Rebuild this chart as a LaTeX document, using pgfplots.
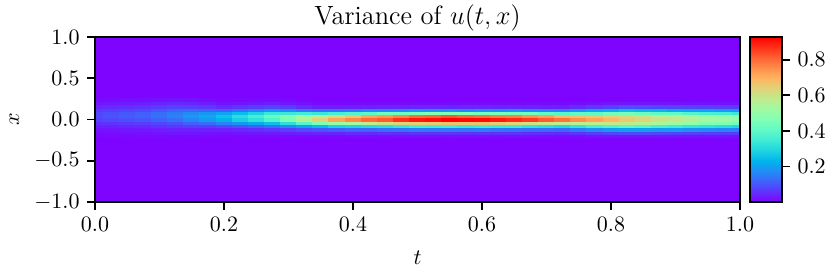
\documentclass[border=0pt]{standalone}
\usepackage{pgfplots}
\pgfplotsset{compat=1.18}
\definecolor{bgc}{rgb}{0.494,0.01,1}
\pgfplotsset{colormap={mplrainbow}{rgb=(0.5,0,1) rgb=(0.375,0.195,0.995) rgb=(0.25,0.383,0.981) rgb=(0.125,0.556,0.957) rgb=(0,0.707,0.924) rgb=(0.125,0.831,0.882) rgb=(0.25,0.924,0.831) rgb=(0.375,0.981,0.773) rgb=(0.5,1,0.707) rgb=(0.625,0.981,0.634) rgb=(0.75,0.924,0.556) rgb=(0.875,0.831,0.471) rgb=(1,0.707,0.383) rgb=(1,0.556,0.290) rgb=(1,0.383,0.195) rgb=(1,0.195,0.098) rgb=(1,0,0)}}
\begin{document}
\begin{tikzpicture}
\useasboundingbox (-43.18pt,-31.36pt) rectangle (334.05pt,91.81pt);
\begin{axis}[
  at={(0,0)}, anchor=south west,
  scale only axis, width=293.15pt, height=75pt,
  xmin=0, xmax=1, ymin=-1, ymax=1,
  axis on top,
  axis background/.style={fill=bgc},
  xtick={0,0.2,0.4,0.6,0.8,1}, ytick={-1,-0.5,0,0.5,1},
  tick align=outside, xtick pos=bottom, ytick pos=left,
  major tick length=3.5pt,
  every tick/.style={black, line width=0.8pt},
  axis line style={line width=0.8pt},
  xticklabel style={/pgf/number format/.cd, fixed, fixed zerofill, precision=1},
  yticklabel style={/pgf/number format/.cd, fixed, fixed zerofill, precision=1},
  title={Variance of $u(t,x)$},
  title style={font=\large, at={(0.5,1)}, anchor=base, yshift=-0.5pt},
  xlabel={$t$}, ylabel={$x$},
  xlabel style={yshift=-2pt},
  colormap name=mplrainbow,
  point meta min=0.001, point meta max=0.928,
  colorbar,
  colorbar style={at={(parent axis.north east)}, anchor=north west, xshift=-3.95pt,
    scale only axis, width=14.55pt, height=75pt,
    ytick={0.2,0.4,0.6,0.8}, ytick pos=right, yticklabel pos=right,
    tick align=outside, major tick length=3.5pt,
    every tick/.style={black, line width=0.8pt},
    axis line style={line width=0.8pt},
    yticklabel style={/pgf/number format/.cd, fixed, fixed zerofill, precision=1}},
]
\addplot[matrix plot*, mesh/cols=41, point meta=explicit] coordinates {
(0,-0.24)[0.005] (0.025,-0.24)[0.005] (0.05,-0.24)[0.006] (0.075,-0.24)[0.006] (0.1,-0.24)[0.007] (0.125,-0.24)[0.008] (0.15,-0.24)[0.007] (0.175,-0.24)[0.005] (0.2,-0.24)[0.005] (0.225,-0.24)[0.004] (0.25,-0.24)[0.005] (0.275,-0.24)[0.005] (0.3,-0.24)[0.006] (0.325,-0.24)[0.005] (0.35,-0.24)[0.005] (0.375,-0.24)[0.004] (0.4,-0.24)[0.005] (0.425,-0.24)[0.005] (0.45,-0.24)[0.006] (0.475,-0.24)[0.005] (0.5,-0.24)[0.005] (0.525,-0.24)[0.005] (0.55,-0.24)[0.004] (0.575,-0.24)[0.005] (0.6,-0.24)[0.005] (0.625,-0.24)[0.006] (0.65,-0.24)[0.005] (0.675,-0.24)[0.005] (0.7,-0.24)[0.005] (0.725,-0.24)[0.004] (0.75,-0.24)[0.006] (0.775,-0.24)[0.006] (0.8,-0.24)[0.006] (0.825,-0.24)[0.007] (0.85,-0.24)[0.006] (0.875,-0.24)[0.006] (0.9,-0.24)[0.005] (0.925,-0.24)[0.006] (0.95,-0.24)[0.006] (0.975,-0.24)[0.007] (1,-0.24)[0.006]
(0,-0.2)[0.007] (0.025,-0.2)[0.008] (0.05,-0.2)[0.009] (0.075,-0.2)[0.010] (0.1,-0.2)[0.011] (0.125,-0.2)[0.013] (0.15,-0.2)[0.012] (0.175,-0.2)[0.010] (0.2,-0.2)[0.008] (0.225,-0.2)[0.009] (0.25,-0.2)[0.011] (0.275,-0.2)[0.013] (0.3,-0.2)[0.013] (0.325,-0.2)[0.013] (0.35,-0.2)[0.013] (0.375,-0.2)[0.014] (0.4,-0.2)[0.015] (0.425,-0.2)[0.016] (0.45,-0.2)[0.017] (0.475,-0.2)[0.017] (0.5,-0.2)[0.018] (0.525,-0.2)[0.018] (0.55,-0.2)[0.019] (0.575,-0.2)[0.018] (0.6,-0.2)[0.018] (0.625,-0.2)[0.018] (0.65,-0.2)[0.018] (0.675,-0.2)[0.017] (0.7,-0.2)[0.016] (0.725,-0.2)[0.016] (0.75,-0.2)[0.019] (0.775,-0.2)[0.022] (0.8,-0.2)[0.024] (0.825,-0.2)[0.026] (0.85,-0.2)[0.025] (0.875,-0.2)[0.024] (0.9,-0.2)[0.023] (0.925,-0.2)[0.022] (0.95,-0.2)[0.022] (0.975,-0.2)[0.021] (1,-0.2)[0.020]
(0,-0.16)[0.014] (0.025,-0.16)[0.015] (0.05,-0.16)[0.017] (0.075,-0.16)[0.018] (0.1,-0.16)[0.021] (0.125,-0.16)[0.024] (0.15,-0.16)[0.023] (0.175,-0.16)[0.021] (0.2,-0.16)[0.018] (0.225,-0.16)[0.022] (0.25,-0.16)[0.025] (0.275,-0.16)[0.029] (0.3,-0.16)[0.033] (0.325,-0.16)[0.036] (0.35,-0.16)[0.038] (0.375,-0.16)[0.042] (0.4,-0.16)[0.046] (0.425,-0.16)[0.048] (0.45,-0.16)[0.050] (0.475,-0.16)[0.052] (0.5,-0.16)[0.054] (0.525,-0.16)[0.055] (0.55,-0.16)[0.056] (0.575,-0.16)[0.055] (0.6,-0.16)[0.055] (0.625,-0.16)[0.054] (0.65,-0.16)[0.053] (0.675,-0.16)[0.051] (0.7,-0.16)[0.049] (0.725,-0.16)[0.047] (0.75,-0.16)[0.058] (0.775,-0.16)[0.068] (0.8,-0.16)[0.078] (0.825,-0.16)[0.086] (0.85,-0.16)[0.082] (0.875,-0.16)[0.078] (0.9,-0.16)[0.075] (0.925,-0.16)[0.073] (0.95,-0.16)[0.070] (0.975,-0.16)[0.068] (1,-0.16)[0.065]
(0,-0.12)[0.023] (0.025,-0.12)[0.025] (0.05,-0.12)[0.028] (0.075,-0.12)[0.030] (0.1,-0.12)[0.035] (0.125,-0.12)[0.040] (0.15,-0.12)[0.041] (0.175,-0.12)[0.040] (0.2,-0.12)[0.039] (0.225,-0.12)[0.047] (0.25,-0.12)[0.054] (0.275,-0.12)[0.063] (0.3,-0.12)[0.075] (0.325,-0.12)[0.089] (0.35,-0.12)[0.102] (0.375,-0.12)[0.112] (0.4,-0.12)[0.122] (0.425,-0.12)[0.120] (0.45,-0.12)[0.134] (0.475,-0.12)[0.139] (0.5,-0.12)[0.150] (0.525,-0.12)[0.147] (0.55,-0.12)[0.149] (0.575,-0.12)[0.147] (0.6,-0.12)[0.155] (0.625,-0.12)[0.144] (0.65,-0.12)[0.141] (0.675,-0.12)[0.130] (0.7,-0.12)[0.131] (0.725,-0.12)[0.125] (0.75,-0.12)[0.150] (0.775,-0.12)[0.173] (0.8,-0.12)[0.193] (0.825,-0.12)[0.200] (0.85,-0.12)[0.202] (0.875,-0.12)[0.192] (0.9,-0.12)[0.195] (0.925,-0.12)[0.179] (0.95,-0.12)[0.173] (0.975,-0.12)[0.166] (1,-0.12)[0.160]
(0,-0.08)[0.036] (0.025,-0.08)[0.040] (0.05,-0.08)[0.044] (0.075,-0.08)[0.048] (0.1,-0.08)[0.056] (0.125,-0.08)[0.064] (0.15,-0.08)[0.071] (0.175,-0.08)[0.076] (0.2,-0.08)[0.083] (0.225,-0.08)[0.099] (0.25,-0.08)[0.115] (0.275,-0.08)[0.134] (0.3,-0.08)[0.167] (0.325,-0.08)[0.205] (0.35,-0.08)[0.243] (0.375,-0.08)[0.280] (0.4,-0.08)[0.289] (0.425,-0.08)[0.304] (0.45,-0.08)[0.310] (0.475,-0.08)[0.331] (0.5,-0.08)[0.355] (0.525,-0.08)[0.350] (0.55,-0.08)[0.353] (0.575,-0.08)[0.340] (0.6,-0.08)[0.346] (0.625,-0.08)[0.342] (0.65,-0.08)[0.345] (0.675,-0.08)[0.323] (0.7,-0.08)[0.312] (0.725,-0.08)[0.296] (0.75,-0.08)[0.326] (0.775,-0.08)[0.360] (0.8,-0.08)[0.376] (0.825,-0.08)[0.396] (0.85,-0.08)[0.385] (0.875,-0.08)[0.360] (0.9,-0.08)[0.348] (0.925,-0.08)[0.330] (0.95,-0.08)[0.324] (0.975,-0.08)[0.312] (1,-0.08)[0.300]
(0,-0.04)[0.054] (0.025,-0.04)[0.060] (0.05,-0.04)[0.066] (0.075,-0.04)[0.072] (0.1,-0.04)[0.084] (0.125,-0.04)[0.096] (0.15,-0.04)[0.114] (0.175,-0.04)[0.132] (0.2,-0.04)[0.156] (0.225,-0.04)[0.186] (0.25,-0.04)[0.216] (0.275,-0.04)[0.252] (0.3,-0.04)[0.314] (0.325,-0.04)[0.388] (0.35,-0.04)[0.461] (0.375,-0.04)[0.504] (0.4,-0.04)[0.530] (0.425,-0.04)[0.576] (0.45,-0.04)[0.605] (0.475,-0.04)[0.640] (0.5,-0.04)[0.648] (0.525,-0.04)[0.650] (0.55,-0.04)[0.670] (0.575,-0.04)[0.662] (0.6,-0.04)[0.670] (0.625,-0.04)[0.648] (0.65,-0.04)[0.634] (0.675,-0.04)[0.600] (0.7,-0.04)[0.590] (0.725,-0.04)[0.575] (0.75,-0.04)[0.570] (0.775,-0.04)[0.576] (0.8,-0.04)[0.590] (0.825,-0.04)[0.581] (0.85,-0.04)[0.554] (0.875,-0.04)[0.540] (0.9,-0.04)[0.510] (0.925,-0.04)[0.493] (0.95,-0.04)[0.460] (0.975,-0.04)[0.458] (1,-0.04)[0.440]
(0,0)[0.077] (0.025,0)[0.085] (0.05,0)[0.094] (0.075,0)[0.102] (0.1,0)[0.119] (0.125,0)[0.136] (0.15,0)[0.165] (0.175,0)[0.194] (0.2,0)[0.234] (0.225,0)[0.279] (0.25,0)[0.324] (0.275,0)[0.378] (0.3,0)[0.457] (0.325,0)[0.551] (0.35,0)[0.640] (0.375,0)[0.720] (0.4,0)[0.760] (0.425,0)[0.800] (0.45,0)[0.820] (0.475,0)[0.870] (0.5,0)[0.900] (0.525,0)[0.910] (0.55,0)[0.925] (0.575,0)[0.920] (0.6,0)[0.915] (0.625,0)[0.900] (0.65,0)[0.880] (0.675,0)[0.860] (0.7,0)[0.820] (0.725,0)[0.790] (0.75,0)[0.750] (0.775,0)[0.720] (0.8,0)[0.690] (0.825,0)[0.650] (0.85,0)[0.630] (0.875,0)[0.600] (0.9,0)[0.590] (0.925,0)[0.560] (0.95,0)[0.530] (0.975,0)[0.520] (1,0)[0.500]
(0,0.04)[0.090] (0.025,0.04)[0.100] (0.05,0.04)[0.110] (0.075,0.04)[0.120] (0.1,0.04)[0.140] (0.125,0.04)[0.160] (0.15,0.04)[0.190] (0.175,0.04)[0.220] (0.2,0.04)[0.260] (0.225,0.04)[0.310] (0.25,0.04)[0.360] (0.275,0.04)[0.420] (0.3,0.04)[0.470] (0.325,0.04)[0.524] (0.35,0.04)[0.563] (0.375,0.04)[0.616] (0.4,0.04)[0.669] (0.425,0.04)[0.720] (0.45,0.04)[0.739] (0.475,0.04)[0.766] (0.5,0.04)[0.800] (0.525,0.04)[0.810] (0.55,0.04)[0.830] (0.575,0.04)[0.810] (0.6,0.04)[0.800] (0.625,0.04)[0.780] (0.65,0.04)[0.774] (0.675,0.04)[0.748] (0.7,0.04)[0.730] (0.725,0.04)[0.686] (0.75,0.04)[0.673] (0.775,0.04)[0.659] (0.8,0.04)[0.643] (0.825,0.04)[0.627] (0.85,0.04)[0.610] (0.875,0.04)[0.570] (0.9,0.04)[0.551] (0.925,0.04)[0.532] (0.95,0.04)[0.513] (0.975,0.04)[0.494] (1,0.04)[0.475]
(0,0.08)[0.086] (0.025,0.08)[0.095] (0.05,0.08)[0.105] (0.075,0.08)[0.114] (0.1,0.08)[0.133] (0.125,0.08)[0.152] (0.15,0.08)[0.171] (0.175,0.08)[0.187] (0.2,0.08)[0.208] (0.225,0.08)[0.248] (0.25,0.08)[0.288] (0.275,0.08)[0.336] (0.3,0.08)[0.343] (0.325,0.08)[0.350] (0.35,0.08)[0.340] (0.375,0.08)[0.360] (0.4,0.08)[0.380] (0.425,0.08)[0.400] (0.45,0.08)[0.440] (0.475,0.08)[0.435] (0.5,0.08)[0.450] (0.525,0.08)[0.470] (0.55,0.08)[0.465] (0.575,0.08)[0.460] (0.6,0.08)[0.440] (0.625,0.08)[0.450] (0.65,0.08)[0.440] (0.675,0.08)[0.440] (0.7,0.08)[0.410] (0.725,0.08)[0.390] (0.75,0.08)[0.409] (0.775,0.08)[0.410] (0.8,0.08)[0.438] (0.825,0.08)[0.449] (0.85,0.08)[0.428] (0.875,0.08)[0.408] (0.9,0.08)[0.410] (0.925,0.08)[0.381] (0.95,0.08)[0.367] (0.975,0.08)[0.360] (1,0.08)[0.340]
(0,0.12)[0.068] (0.025,0.12)[0.075] (0.05,0.12)[0.083] (0.075,0.12)[0.090] (0.1,0.12)[0.105] (0.125,0.12)[0.120] (0.15,0.12)[0.124] (0.175,0.12)[0.121] (0.2,0.12)[0.117] (0.225,0.12)[0.140] (0.25,0.12)[0.162] (0.275,0.12)[0.189] (0.3,0.12)[0.180] (0.325,0.12)[0.150] (0.35,0.12)[0.140] (0.375,0.12)[0.145] (0.4,0.12)[0.152] (0.425,0.12)[0.170] (0.45,0.12)[0.168] (0.475,0.12)[0.174] (0.5,0.12)[0.190] (0.525,0.12)[0.184] (0.55,0.12)[0.186] (0.575,0.12)[0.170] (0.6,0.12)[0.182] (0.625,0.12)[0.180] (0.65,0.12)[0.185] (0.675,0.12)[0.170] (0.7,0.12)[0.164] (0.725,0.12)[0.156] (0.75,0.12)[0.184] (0.775,0.12)[0.209] (0.8,0.12)[0.231] (0.825,0.12)[0.251] (0.85,0.12)[0.239] (0.875,0.12)[0.240] (0.9,0.12)[0.220] (0.925,0.12)[0.213] (0.95,0.12)[0.210] (0.975,0.12)[0.198] (1,0.12)[0.190]
(0,0.16)[0.045] (0.025,0.16)[0.050] (0.05,0.16)[0.055] (0.075,0.16)[0.060] (0.1,0.16)[0.070] (0.125,0.16)[0.080] (0.15,0.16)[0.076] (0.175,0.16)[0.066] (0.2,0.16)[0.052] (0.225,0.16)[0.062] (0.25,0.16)[0.072] (0.275,0.16)[0.084] (0.3,0.16)[0.074] (0.325,0.16)[0.050] (0.35,0.16)[0.040] (0.375,0.16)[0.035] (0.4,0.16)[0.038] (0.425,0.16)[0.040] (0.45,0.16)[0.042] (0.475,0.16)[0.044] (0.5,0.16)[0.045] (0.525,0.16)[0.046] (0.55,0.16)[0.047] (0.575,0.16)[0.046] (0.6,0.16)[0.046] (0.625,0.16)[0.045] (0.65,0.16)[0.044] (0.675,0.16)[0.043] (0.7,0.16)[0.041] (0.725,0.16)[0.039] (0.75,0.16)[0.054] (0.775,0.16)[0.068] (0.8,0.16)[0.081] (0.825,0.16)[0.092] (0.85,0.16)[0.088] (0.875,0.16)[0.084] (0.9,0.16)[0.081] (0.925,0.16)[0.078] (0.95,0.16)[0.076] (0.975,0.16)[0.073] (1,0.16)[0.070]
(0,0.2)[0.027] (0.025,0.2)[0.030] (0.05,0.2)[0.033] (0.075,0.2)[0.036] (0.1,0.2)[0.042] (0.125,0.2)[0.048] (0.15,0.2)[0.043] (0.175,0.2)[0.034] (0.2,0.2)[0.021] (0.225,0.2)[0.025] (0.25,0.2)[0.029] (0.275,0.2)[0.034] (0.3,0.2)[0.028] (0.325,0.2)[0.021] (0.35,0.2)[0.012] (0.375,0.2)[0.011] (0.4,0.2)[0.012] (0.425,0.2)[0.012] (0.45,0.2)[0.013] (0.475,0.2)[0.013] (0.5,0.2)[0.014] (0.525,0.2)[0.014] (0.55,0.2)[0.014] (0.575,0.2)[0.014] (0.6,0.2)[0.013] (0.625,0.2)[0.014] (0.65,0.2)[0.013] (0.675,0.2)[0.013] (0.7,0.2)[0.012] (0.725,0.2)[0.012] (0.75,0.2)[0.016] (0.775,0.2)[0.020] (0.8,0.2)[0.023] (0.825,0.2)[0.026] (0.85,0.2)[0.025] (0.875,0.2)[0.024] (0.9,0.2)[0.023] (0.925,0.2)[0.022] (0.95,0.2)[0.022] (0.975,0.2)[0.021] (1,0.2)[0.020]
(0,0.24)[0.014] (0.025,0.24)[0.015] (0.05,0.24)[0.017] (0.075,0.24)[0.018] (0.1,0.24)[0.021] (0.125,0.24)[0.024] (0.15,0.24)[0.021] (0.175,0.24)[0.015] (0.2,0.24)[0.008] (0.225,0.24)[0.009] (0.25,0.24)[0.011] (0.275,0.24)[0.013] (0.3,0.24)[0.011] (0.325,0.24)[0.007] (0.35,0.24)[0.005] (0.375,0.24)[0.005] (0.4,0.24)[0.005] (0.425,0.24)[0.005] (0.45,0.24)[0.005] (0.475,0.24)[0.005] (0.5,0.24)[0.005] (0.525,0.24)[0.005] (0.55,0.24)[0.005] (0.575,0.24)[0.005] (0.6,0.24)[0.005] (0.625,0.24)[0.005] (0.65,0.24)[0.005] (0.675,0.24)[0.005] (0.7,0.24)[0.005] (0.725,0.24)[0.005] (0.75,0.24)[0.005] (0.775,0.24)[0.006] (0.8,0.24)[0.006] (0.825,0.24)[0.006] (0.85,0.24)[0.006] (0.875,0.24)[0.006] (0.9,0.24)[0.006] (0.925,0.24)[0.006] (0.95,0.24)[0.006] (0.975,0.24)[0.006] (1,0.24)[0.006]
};
\end{axis}
\end{tikzpicture}
\end{document}
